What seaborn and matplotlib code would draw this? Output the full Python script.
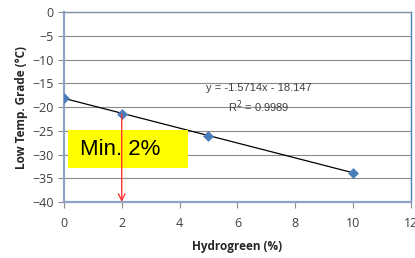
import matplotlib
matplotlib.use("Agg")
import matplotlib.pyplot as plt
from matplotlib.patches import Rectangle, FancyArrowPatch
import seaborn as sns
import pandas as pd

hydrogreen = [0, 2, 5, 10]
low_temp = [-18.0, -21.5, -26.0, -33.8]
x_ticks = [0, 2, 4, 6, 8, 10, 12]
y_ticks = [0, -5, -10, -15, -20, -25, -30, -35, -40]
equation = "y = -1.5714x - 18.147"
r2_text = "R$^2$ = 0.9989"
callout = "Min. 2%"
min_x = 2

df = pd.DataFrame({"Hydrogreen": hydrogreen, "LowTemp": low_temp})

sns.set_theme(style="white")
plt.rcParams["font.family"] = ["Open Sans", "DejaVu Sans"]

fig = plt.figure(figsize=(4.15, 2.58), dpi=100)
ax = fig.add_axes([0.154, 0.217, 0.836, 0.736])

ax.set_xlim(0, 12)
ax.set_ylim(-40, 0)
ax.set_xticks(x_ticks)
ax.set_yticks(y_ticks)
ax.yaxis.grid(True, color="#8c8c8c", linewidth=0.8)
ax.set_axisbelow(True)

sns.regplot(data=df, x="Hydrogreen", y="LowTemp", ax=ax, scatter=False, ci=None,
            line_kws=dict(color="black", linewidth=0.9), truncate=True)
sns.scatterplot(data=df, x="Hydrogreen", y="LowTemp", ax=ax, marker="D", s=26,
                color="#4a7ebb", edgecolor="#4a7ebb", zorder=5)

# yellow callout box
ax.add_patch(Rectangle((0.14, -32.8), 4.15, 8.0, facecolor="#ffff00",
                       edgecolor="none", zorder=3))
ax.text(0.55, -28.9, callout, ha="left", va="center", fontsize=16, color="black",
        zorder=3.5, family=["Liberation Sans", "DejaVu Sans"])

# red arrow at min value (drawn over the box)
y_at_min = low_temp[hydrogreen.index(min_x)]
arrow = FancyArrowPatch((min_x, y_at_min), (min_x, -40), arrowstyle="->",
                        color="#ff3333", lw=1.0, mutation_scale=12,
                        shrinkA=0, shrinkB=0, zorder=6)
ax.add_patch(arrow)

ax.text(6.75, -16.0, equation, ha="center", va="center", fontsize=8, color="#404040",
        family=["Liberation Sans", "DejaVu Sans"])
ax.text(6.75, -20.0, r2_text, ha="center", va="center", fontsize=8, color="#404040",
        family=["Liberation Sans", "DejaVu Sans"])

ax.set_xlabel("Hydrogreen (%)", fontsize=8.5, fontweight="bold", color="#262626", labelpad=7)
ax.set_ylabel("Low Temp. Grade (°C)", fontsize=8.5, fontweight="bold", color="#262626", labelpad=3)

for s in ["left", "bottom"]:
    ax.spines[s].set_color("#8fa4c4")
    ax.spines[s].set_linewidth(1.6)
for s in ["top", "right"]:
    ax.spines[s].set_color("#4f81bd")
    ax.spines[s].set_linewidth(1.0)
ax.spines["top"].set_color("#7f8fa8")

ax.tick_params(axis="both", which="both", direction="out", length=4, width=0.8,
               color="#8c8c8c", labelsize=9, labelcolor="#404040", left=True, bottom=True)
ax.tick_params(axis="x", pad=7)

fig.savefig("out.png", dpi=100)
